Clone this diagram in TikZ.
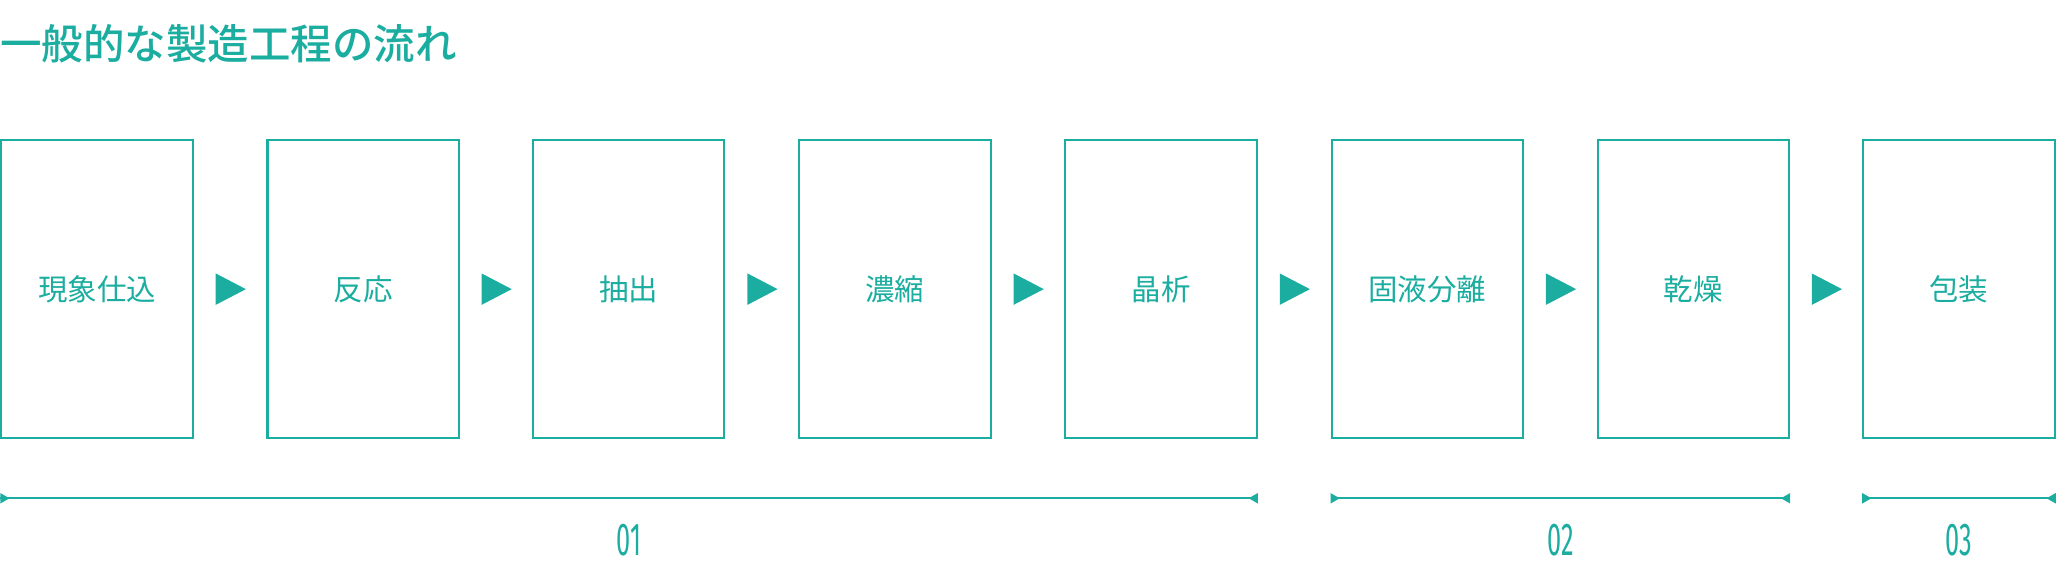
\documentclass[tikz,border=0pt]{standalone}
\usepackage{fontspec}
\newfontfamily\cjk{Noto Sans CJK JP}
\newfontfamily\cjkm{Noto Sans CJK JP Medium}
\newfontfamily\numf{Fira Sans}
\definecolor{tealc}{HTML}{1AADA0}
\begin{document}
\begin{tikzpicture}[x=0.02cm,y=-0.02cm,
  stepbox/.style={draw=tealc,line width=0.9pt,minimum width=146*0.02cm,minimum height=227*0.02cm,inner sep=0pt,font=\cjk\fontsize{12.8}{15}\selectfont,text=tealc},
  brk/.style={draw=tealc,line width=1pt},
  numlab/.style={text=tealc,font=\numf\fontsize{20}{22}\selectfont,xscale=0.55}]
\useasboundingbox (0,0) rectangle (1568,441);
\node[anchor=west,text=tealc,font=\cjkm\fontsize{18}{20}\selectfont,inner sep=0pt] (title) at (0,33) {一般的な製造工程の流れ};
\foreach \x/\t/\n in {74/現象仕込/b1,277/反応/b2,479.5/抽出/b3,682.5/濃縮/b4,885.5/晶析/b5,1088.5/固液分離/b6,1291.5/乾燥/b7,1494/包装/b8}
  \node[stepbox] (\n) at (\x,220.5) {\t};
\foreach \a/\b in {b1/b2,b2/b3,b3/b4,b4/b5,b5/b6,b6/b7,b7/b8}{
  \path (\a.east) -- (\b.west) coordinate[pos=0.5] (m\a);
  \fill[tealc] ([xshift=-11*0.02cm,yshift=12*0.02cm]m\a) -- ([xshift=-11*0.02cm,yshift=-12*0.02cm]m\a) -- ([xshift=12*0.02cm]m\a) -- cycle;
}
\foreach \l/\r/\k/\lab in {b1/b5/a/01,b6/b7/b/02,b8/b8/c/03}{
  \coordinate (L\k) at (\l.west |- 0,380);
  \coordinate (R\k) at (\r.east |- 0,380);
  \draw[brk] (L\k) -- (R\k);
  \fill[tealc] ([yshift=4*0.02cm]L\k) -- ([yshift=-4*0.02cm]L\k) -- ([xshift=7*0.02cm]L\k) -- cycle;
  \fill[tealc] ([yshift=4*0.02cm]R\k) -- ([yshift=-4*0.02cm]R\k) -- ([xshift=-7*0.02cm]R\k) -- cycle;
  \path (L\k) -- (R\k) node[pos=0.5,yshift=-32*0.02cm,numlab] (n\k) {\lab};
}
\end{tikzpicture}
\end{document}
